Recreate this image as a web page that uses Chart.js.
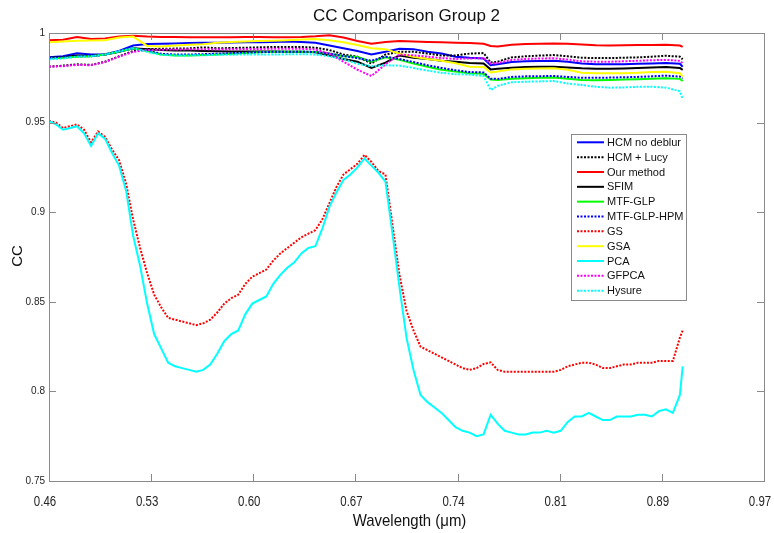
<!DOCTYPE html>
<html>
<head>
<meta charset="utf-8">
<script src="https://cdn.jsdelivr.net/npm/chart.js@4.4.1/dist/chart.umd.min.js"></script>
<style>
  body { margin: 0; background: #fff; }
  #wrap { width: 774px; height: 533px; }
</style>
</head>
<body>
<div id="wrap"><canvas id="ccChart" width="774" height="533"></canvas></div>
<script>
// wavelength grids (um): coarse one for the top group, fine one for GS / PCA
const wavelength = [0.46, 0.47, 0.48, 0.49, 0.50, 0.51, 0.52, 0.53, 0.54, 0.55,
  0.56, 0.57, 0.58, 0.59, 0.60, 0.61, 0.62, 0.63, 0.64, 0.65,
  0.66, 0.67, 0.68, 0.69, 0.70, 0.71, 0.72, 0.73, 0.74, 0.75,
  0.76, 0.77, 0.775, 0.78, 0.79, 0.80, 0.81, 0.82, 0.83, 0.84,
  0.85, 0.86, 0.87, 0.88, 0.89, 0.90, 0.91, 0.912];
const wavelengthFine = [0.46, 0.465, 0.47, 0.475, 0.48, 0.485, 0.49, 0.495, 0.50, 0.505,
  0.51, 0.515, 0.52, 0.525, 0.53, 0.535, 0.54, 0.545, 0.55, 0.555,
  0.56, 0.565, 0.57, 0.575, 0.58, 0.585, 0.59, 0.595, 0.60, 0.605,
  0.61, 0.615, 0.62, 0.625, 0.63, 0.635, 0.64, 0.645, 0.65, 0.655,
  0.66, 0.665, 0.67, 0.675, 0.68, 0.685, 0.69, 0.695, 0.70, 0.705,
  0.71, 0.715, 0.72, 0.725, 0.73, 0.735, 0.74, 0.745, 0.75, 0.755,
  0.76, 0.765, 0.77, 0.775, 0.78, 0.785, 0.79, 0.795, 0.80, 0.805,
  0.81, 0.815, 0.82, 0.825, 0.83, 0.835, 0.84, 0.845, 0.85, 0.855,
  0.86, 0.865, 0.87, 0.875, 0.88, 0.885, 0.89, 0.895, 0.90, 0.905,
  0.91, 0.912];

const xTickLabels = ['0.46', '0.53', '0.60', '0.67', '0.74', '0.81', '0.89', '0.97'];

const hcmNoDeblur = [.9864, .9870, .9887, .9880, .9882, .9900, .9930, .9938, .9940, .9942,
  .9944, .9946, .9946, .9947, .9948, .9948, .9950, .9952, .9950, .9946,
  .9930, .9915, .9900, .9880, .9895, .9912, .9910, .9895, .9885, .9868,
  .9862, .9858, .9820, .9825, .9838, .9842, .9844, .9845, .9840, .9830,
  .9826, .9825, .9826, .9828, .9830, .9832, .9828, .9812];
const hcmLucy = [.9812, .9818, .9825, .9822, .9840, .9870, .9900, .9910, .9912, .9913,
  .9914, .9920, .9915, .9916, .9918, .9920, .9922, .9922, .9922, .9918,
  .9905, .9880, .9868, .9830, .9880, .9895, .9896, .9885, .9875, .9875,
  .9885, .9888, .9835, .9840, .9864, .9870, .9874, .9877, .9870, .9862,
  .9860, .9860, .9862, .9864, .9868, .9873, .9868, .9853];
const ourMethod = [.9960, .9962, .9978, .9966, .9970, .9980, .9985, .9980, .9978, .9977,
  .9976, .9976, .9976, .9976, .9977, .9977, .9976, .9976, .9978, .9982,
  .9988, .9975, .9955, .9940, .9950, .9955, .9953, .9950, .9948, .9946,
  .9944, .9940, .9928, .9925, .9935, .9938, .9940, .9942, .9940, .9936,
  .9932, .9930, .9932, .9933, .9933, .9934, .9930, .9922];
const sfim = [.9862, .9865, .9875, .9872, .9880, .9895, .9915, .9910, .9905, .9903,
  .9902, .9900, .9898, .9897, .9897, .9897, .9897, .9896, .9895, .9892,
  .9875, .9855, .9840, .9805, .9835, .9875, .9862, .9855, .9845, .9840,
  .9832, .9830, .9797, .9800, .9806, .9810, .9812, .9812, .9808, .9803,
  .9800, .9800, .9802, .9805, .9808, .9810, .9805, .9794];
const mtfGlp = [.9859, .9862, .9868, .9870, .9880, .9895, .9915, .9900, .9880, .9875,
  .9875, .9877, .9880, .9884, .9888, .9892, .9895, .9896, .9896, .9894,
  .9885, .9870, .9866, .9840, .9865, .9850, .9830, .9812, .9795, .9785,
  .9775, .9772, .9740, .9738, .9745, .9748, .9750, .9751, .9745, .9738,
  .9737, .9738, .9740, .9742, .9745, .9748, .9744, .9732];
const mtfGlpHpm = [.9860, .9863, .9870, .9870, .9880, .9896, .9915, .9902, .9884, .9880,
  .9880, .9882, .9884, .9887, .9890, .9893, .9895, .9896, .9896, .9894,
  .9885, .9872, .9860, .9845, .9868, .9855, .9838, .9820, .9805, .9792,
  .9782, .9780, .9745, .9744, .9755, .9758, .9759, .9760, .9755, .9750,
  .9750, .9751, .9753, .9755, .9758, .9762, .9757, .9747];
const gs = [.951, .950, .947, .948, .949, .946, .939, .945, .942, .935,
  .929, .916, .896, .880, .866, .854, .847, .841, .840, .839,
  .838, .837, .838, .840, .844, .849, .852, .854, .860, .864,
  .866, .868, .873, .877, .880, .883, .886, .888, .890, .896,
  .905, .914, .921, .924, .927, .932, .928, .923, .921, .893,
  .865, .845, .834, .825, .823, .821, .819, .817, .815, .813,
  .812, .813, .8153, .8162, .8120, .811, .811, .811, .811, .811,
  .811, .811, .811, .812, .814, .815, .816, .816, .815, .813,
  .813, .814, .815, .815, .816, .816, .816, .817, .817, .817,
  .830, .834];
const gsa = [.9948, .9952, .9957, .9958, .9960, .9975, .9980, .9928, .9925, .9930,
  .9935, .9937, .9945, .9950, .9953, .9955, .9957, .9960, .9964, .9966,
  .9960, .9948, .9933, .9915, .9910, .9885, .9868, .9855, .9845, .9831,
  .9812, .9810, .9780, .9785, .9797, .9800, .9802, .9803, .9795, .9778,
  .9775, .9775, .9776, .9778, .9782, .9784, .9775, .9756];
const pca = [.951, .949, .946, .947, .948, .944, .937, .944, .941, .933,
  .926, .912, .887, .870, .849, .832, .824, .816, .814, .813,
  .812, .811, .812, .815, .821, .828, .832, .834, .843, .849,
  .851, .853, .860, .865, .869, .872, .877, .880, .881, .891,
  .903, .911, .918, .921, .925, .930, .926, .922, .917, .888,
  .858, .830, .812, .798, .794, .791, .788, .784, .780, .778,
  .777, .775, .776, .787, .782, .778, .777, .776, .776, .777,
  .777, .778, .777, .778, .783, .786, .786, .788, .786, .784,
  .784, .786, .786, .786, .787, .787, .786, .789, .790, .788,
  .798, .814];
const gfpca = [.9812, .9815, .9822, .9820, .9838, .9868, .9895, .9905, .9907, .9908,
  .9909, .9910, .9910, .9910, .9910, .9911, .9912, .9912, .9912, .9908,
  .9885, .9840, .9795, .9760, .9825, .9880, .9875, .9868, .9860, .9855,
  .9858, .9860, .9830, .9832, .9850, .9855, .9858, .9859, .9852, .9842,
  .9840, .9840, .9842, .9845, .9848, .9850, .9845, .9831];
const hysure = [.9853, .9858, .9868, .9870, .9880, .9898, .9915, .9895, .9878, .9875,
  .9875, .9876, .9878, .9879, .9880, .9880, .9880, .9881, .9882, .9880,
  .9870, .9855, .9828, .9815, .9820, .9818, .9805, .9790, .9778, .9770,
  .9768, .9760, .9682, .9705, .9725, .9728, .9730, .9732, .9718, .9710,
  .9700, .9695, .9696, .9700, .9700, .9695, .9675, .9632];

function pts(xs, ys) {
  return xs.map((x, i) => ({ x: x, y: ys[i] }));
}

const DOT = [2, 1.5];

// legend order = plot order, later series sit on top
const series = [
  { label: 'HCM no deblur', x: wavelength, y: hcmNoDeblur, color: '#0000ff', dash: [] },
  { label: 'HCM + Lucy', x: wavelength, y: hcmLucy, color: '#000000', dash: DOT },
  { label: 'Our method', x: wavelength, y: ourMethod, color: '#ff0000', dash: [] },
  { label: 'SFIM', x: wavelength, y: sfim, color: '#000000', dash: [] },
  { label: 'MTF-GLP', x: wavelength, y: mtfGlp, color: '#00ff00', dash: [] },
  { label: 'MTF-GLP-HPM', x: wavelength, y: mtfGlpHpm, color: '#0000ff', dash: DOT },
  { label: 'GS', x: wavelengthFine, y: gs, color: '#ff0000', dash: DOT },
  { label: 'GSA', x: wavelength, y: gsa, color: '#ffff00', dash: [] },
  { label: 'PCA', x: wavelengthFine, y: pca, color: '#00ffff', dash: [] },
  { label: 'GFPCA', x: wavelength, y: gfpca, color: '#ff00ff', dash: DOT },
  { label: 'Hysure', x: wavelength, y: hysure, color: '#00ffff', dash: DOT }
];

const FRAME = '#8a8a8a';
const TEXT = '#262626';
const ARIAL = 'Arial, "Liberation Sans", sans-serif';

// narrow text: Arial squeezed horizontally
function narrowText(ctx, text, x, y, squeeze) {
  ctx.save();
  ctx.translate(x, y);
  ctx.scale(squeeze, 1);
  ctx.fillText(text, 0, 0);
  ctx.restore();
}

// box, inward ticks, x tick labels, titles and the legend panel
const matlabAxes = {
  id: 'matlabAxes',
  afterDraw(chart) {
    const ctx = chart.ctx;
    const a = chart.chartArea;
    const xs = chart.scales.x, ys = chart.scales.y;
    const tl = 7;
    ctx.save();
    ctx.strokeStyle = FRAME;
    ctx.lineWidth = 1;
    ctx.setLineDash([]);
    ctx.strokeRect(a.left + 0.5, a.top + 0.5, a.right - a.left, a.bottom - a.top);
    ctx.beginPath();
    xs.ticks.forEach(t => {
      const px = Math.round(xs.getPixelForValue(t.value)) + 0.5;
      ctx.moveTo(px, a.bottom); ctx.lineTo(px, a.bottom - tl);
      ctx.moveTo(px, a.top); ctx.lineTo(px, a.top + tl);
    });
    ys.ticks.forEach(t => {
      const py = Math.round(ys.getPixelForValue(t.value)) + 0.5;
      ctx.moveTo(a.left, py); ctx.lineTo(a.left + tl, py);
      ctx.moveTo(a.right, py); ctx.lineTo(a.right - tl, py);
    });
    ctx.stroke();

    ctx.textAlign = 'center';
    ctx.textBaseline = 'middle';

    ctx.fillStyle = TEXT;
    ctx.font = '14px ' + ARIAL;
    xs.ticks.forEach((t, i) => {
      narrowText(ctx, xTickLabels[i], xs.getPixelForValue(t.value) - 4, a.bottom + 21, 0.82);
    });

    ctx.fillStyle = '#111';
    ctx.font = '17px ' + ARIAL;
    ctx.fillText('CC Comparison Group 2', (a.left + a.right) / 2, 16);

    narrowText(ctx, 'Wavelength (\u03bcm)', (a.left + a.right) / 2 + 3, 521, 0.88);

    ctx.save();
    ctx.translate(18, 256);
    ctx.rotate(-Math.PI / 2);
    ctx.font = '15px ' + ARIAL;
    ctx.fillText('CC', 0, 0);
    ctx.restore();

    // legend
    const lx = a.right - 193, ly = a.top + 101;
    const lw = 115, lh = 166, row = 14.84;
    ctx.fillStyle = '#fff';
    ctx.fillRect(lx, ly, lw, lh);
    ctx.strokeStyle = FRAME;
    ctx.strokeRect(lx + 0.5, ly + 0.5, lw, lh);
    ctx.font = '11px ' + ARIAL;
    ctx.textAlign = 'left';
    chart.data.datasets.forEach((ds, i) => {
      const y = ly + 8.3 + i * row;
      ctx.strokeStyle = ds.borderColor;
      ctx.lineWidth = 2;
      ctx.setLineDash(ds.borderDash);
      ctx.beginPath();
      ctx.moveTo(lx + 6, y); ctx.lineTo(lx + 33, y);
      ctx.stroke();
      ctx.fillStyle = '#111';
      ctx.fillText(ds.label, lx + 36, y + 0.5);
    });
    ctx.restore();
  }
};

new Chart(document.getElementById('ccChart'), {
  type: 'line',
  data: {
    datasets: series.map((s, i) => ({
      label: s.label,
      data: pts(s.x, s.y),
      borderColor: s.color,
      backgroundColor: s.color,
      borderDash: s.dash,
      borderWidth: 2,
      pointRadius: 0,
      tension: 0,
      fill: false,
      order: -i
    }))
  },
  options: {
    responsive: false,
    animation: false,
    devicePixelRatio: 1,
    layout: { padding: { top: 33, right: 10, bottom: 0, left: 0 } },
    plugins: {
      legend: { display: false },
      tooltip: { enabled: false },
      title: { display: false }
    },
    scales: {
      x: {
        type: 'linear',
        min: 0.46,
        max: 0.97,
        grid: { display: false, drawTicks: false },
        border: { display: false },
        afterBuildTicks: s => {
          const n = xTickLabels.length - 1;
          s.ticks = xTickLabels.map((_, i) => ({ value: s.min + i * (s.max - s.min) / n }));
        },
        ticks: { display: false },
        afterFit: s => { s.height = 52; s.paddingLeft = 0; s.paddingRight = 0; }
      },
      y: {
        min: 0.75,
        max: 1,
        grid: { display: false, drawTicks: false },
        border: { display: false },
        ticks: {
          stepSize: 0.05,
          padding: 4,
          color: TEXT,
          font: { family: ARIAL, size: 10 },
          callback: v => String(+v.toFixed(2))
        },
        afterFit: s => { s.width = 49; s.paddingTop = 0; s.paddingBottom = 0; }
      }
    }
  },
  plugins: [matlabAxes]
});
</script>
</body>
</html>
